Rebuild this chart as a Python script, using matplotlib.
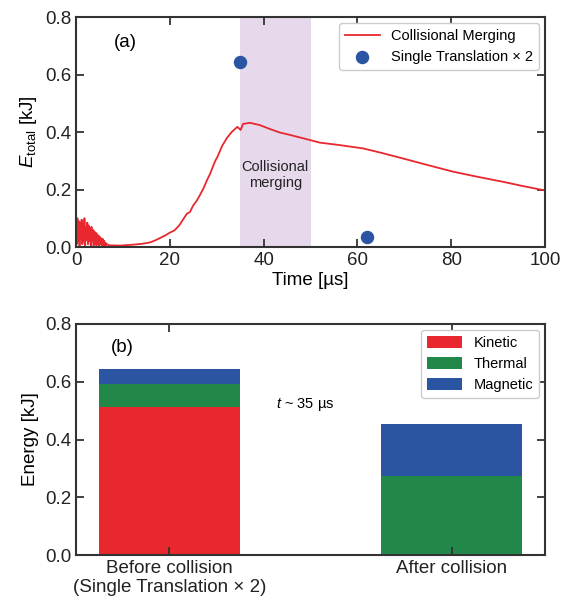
import numpy as np
from matplotlib import pyplot as plt

plt.rcParams['font.family'] = ['Liberation Sans', 'DejaVu Sans']
plt.rcParams['mathtext.fontset'] = 'custom'
plt.rcParams['mathtext.rm'] = 'Liberation Sans'
plt.rcParams['mathtext.it'] = 'Liberation Sans:italic'

# panel (a): total energy vs time
t_noise = [round(0.15 * i, 2) for i in range(45)]
e_noise = [0.07, 0.01, 0.10, 0.02, 0.09, 0.0, 0.085, 0.03, 0.095, 0.01,
           0.08, 0.02, 0.10, 0.005, 0.07, 0.025, 0.085, 0.01, 0.075, 0.02,
           0.065, 0.005, 0.07, 0.02, 0.06, 0.005, 0.055, 0.015, 0.05, 0.005,
           0.045, 0.01, 0.04, 0.005, 0.035, 0.01, 0.03, 0.005, 0.028, 0.006,
           0.022, 0.005, 0.015, 0.006, 0.01]
t_main = [7, 9.4, 12, 14, 15.8, 17, 18, 19, 20, 21, 22, 23, 23.6, 24.3, 25, 25.7, 26.4,
          27.2, 28, 28.6, 29.2, 29.7, 30.2, 31.1, 32.2, 33.2, 34.4, 35.1, 35.6, 37.1, 39.2,
          41.4, 43.5, 45.6, 49.9, 52, 56, 61.2, 65, 69.7, 75, 80.4, 86, 91, 95, 99.6, 100]
e_main = [0.006, 0.005, 0.008, 0.011, 0.016, 0.024, 0.032, 0.04, 0.05, 0.058, 0.075, 0.1,
          0.115, 0.122, 0.145, 0.16, 0.18, 0.205, 0.235, 0.255, 0.28, 0.3, 0.315, 0.35,
          0.38, 0.40, 0.418, 0.407, 0.428, 0.432, 0.424, 0.41, 0.398, 0.39, 0.372, 0.363,
          0.355, 0.343, 0.328, 0.308, 0.285, 0.262, 0.243, 0.227, 0.213, 0.198, 0.197]
t_single = [35, 62]
e_single = [0.645, 0.035]

# panel (b): energy partition
bar_labels = ['Before collision\n(Single Translation × 2)', 'After collision']
kinetic = [0.511, 0.0]
thermal = [0.081, 0.274]
magnetic = [0.053, 0.181]

red = '#e8272f'
green = '#22884a'
blue = '#2b55a3'
spine = '#333333'
fs = 13.5

fig = plt.figure(figsize=(5.61, 6.05), dpi=100)
ax1 = fig.add_axes([0.1355, 0.5917, 0.836, 0.3802])
ax2 = fig.add_axes([0.1355, 0.0826, 0.836, 0.3819])

ax1.axvspan(35, 50, color='#e7d9ec', lw=0, zorder=0)
ax1.plot(t_noise + t_main, e_noise + e_main, color=red, lw=1.3, label='Collisional Merging')
ax1.scatter(t_single, e_single, s=75, color=blue, zorder=3, label='Single Translation × 2')
ax1.text(42.5, 0.25, 'Collisional\nmerging', ha='center', va='center', fontsize=10.5,
         color='#222222')
ax1.text(10.5, 0.71, '(a)', ha='center', va='center', fontsize=fs)
ax1.set_xlim(0, 100)
ax1.set_ylim(0, 0.8)
ax1.set_xticks([0, 20, 40, 60, 80, 100])
ax1.set_yticks([0.0, 0.2, 0.4, 0.6, 0.8])
ax1.set_xlabel('Time [µs]', fontsize=fs, labelpad=2)
ax1.set_ylabel(r'$E_{\rm total}$ [kJ]', fontsize=fs)
ax1.legend(loc='upper right', fontsize=10.5, framealpha=1, edgecolor='#cccccc',
           borderpad=0.4, handlelength=2.4, borderaxespad=0.4)

x = np.arange(len(bar_labels))
w = 0.5
ax2.bar(x, kinetic, w, color=red, label='Kinetic')
ax2.bar(x, thermal, w, bottom=kinetic, color=green, label='Thermal')
ax2.bar(x, magnetic, w, bottom=np.add(kinetic, thermal), color=blue, label='Magnetic')
ax2.text(0.48, 0.52, r'$t$ ~ 35 µs', ha='center', va='center', fontsize=10.5)
ax2.text(-0.165, 0.72, '(b)', ha='center', va='center', fontsize=fs)
ax2.set_xlim(-0.33, 1.33)
ax2.set_ylim(0, 0.8)
ax2.set_xticks(x)
ax2.set_xticklabels(bar_labels)
ax2.set_yticks([0.0, 0.2, 0.4, 0.6, 0.8])
ax2.set_ylabel('Energy [kJ]', fontsize=fs)
ax2.legend(loc='upper right', fontsize=10.5, framealpha=1, edgecolor='#cccccc',
           borderpad=0.4, handlelength=2.4, handleheight=0.9, borderaxespad=0.4)

for ax in (ax1, ax2):
    ax.tick_params(direction='in', top=True, right=True, length=6, width=1.3,
                   labelsize=fs, color=spine, labelcolor='#222222')
    for s in ax.spines.values():
        s.set_linewidth(1.5)
        s.set_color(spine)

fig.savefig('out.png', dpi=100)
